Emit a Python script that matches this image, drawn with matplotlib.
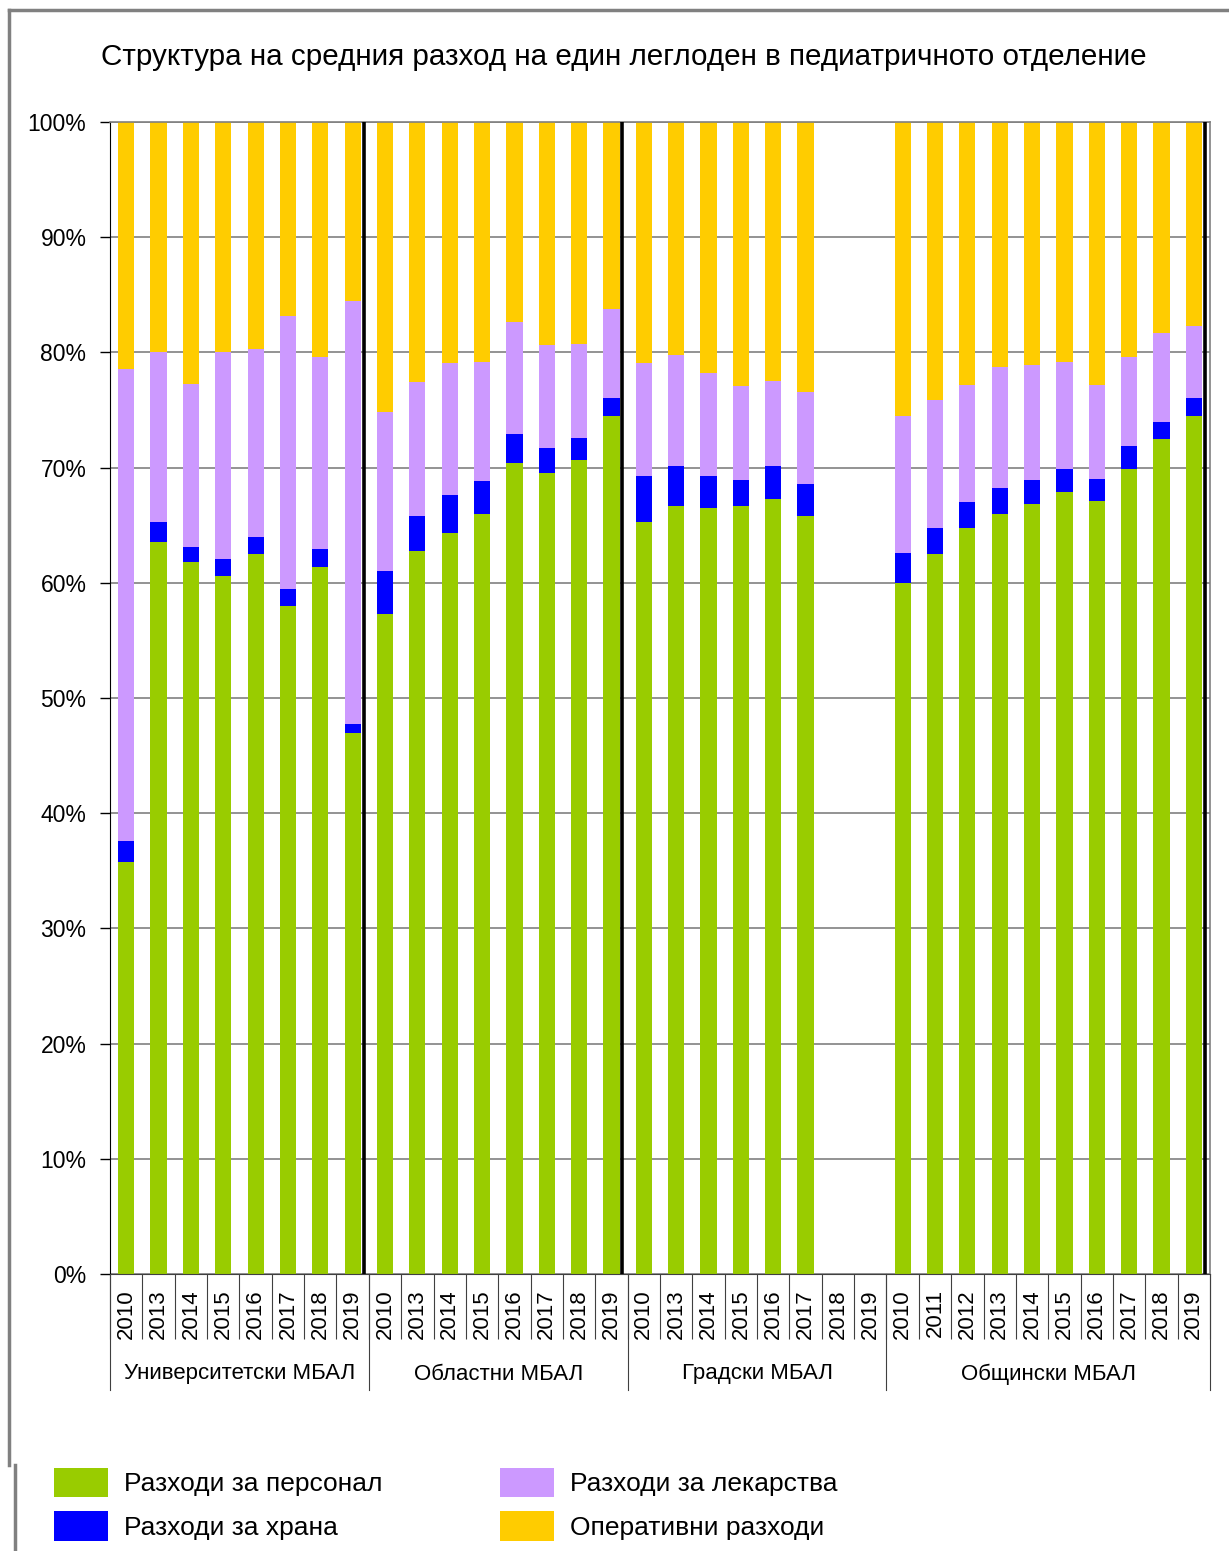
import numpy as np
import matplotlib
matplotlib.use('Agg')
import matplotlib.pyplot as plt
import matplotlib.transforms as mtransforms
from matplotlib.ticker import PercentFormatter, MultipleLocator, FixedLocator
from matplotlib.patches import Patch
from matplotlib.lines import Line2D

# data (percent of average cost per bed-day)
groups = ['Университетски МБАЛ', 'Областни МБАЛ', 'Градски МБАЛ', 'Общински МБАЛ']
years_univ = ['2010', '2013', '2014', '2015', '2016', '2017', '2018', '2019']
years_reg = ['2010', '2013', '2014', '2015', '2016', '2017', '2018', '2019']
years_city = ['2010', '2013', '2014', '2015', '2016', '2017', '2018', '2019']
years_mun = ['2010', '2011', '2012', '2013', '2014', '2015', '2016', '2017', '2018', '2019']

nan = np.nan
personnel = [35.8, 63.5, 61.8, 60.6, 62.5, 58.0, 61.4, 47.0,
             57.3, 62.8, 64.3, 66.0, 70.4, 69.5, 70.7, 74.5,
             65.3, 66.7, 66.5, 66.7, 67.3, 65.8, nan, nan,
             60.0, 62.5, 64.8, 66.0, 66.8, 67.9, 67.1, 69.9, 72.5, 74.5]
food = [1.8, 1.8, 1.3, 1.5, 1.5, 1.5, 1.5, 0.7,
        3.7, 3.0, 3.3, 2.8, 2.5, 2.2, 1.9, 1.5,
        4.0, 3.4, 2.8, 2.2, 2.8, 2.8, nan, nan,
        2.6, 2.3, 2.2, 2.2, 2.1, 2.0, 1.9, 2.0, 1.5, 1.5]
drugs = [41.0, 14.7, 14.2, 17.9, 16.3, 23.7, 16.7, 36.8,
         13.8, 11.6, 11.5, 10.4, 9.7, 8.9, 8.1, 7.8,
         9.8, 9.7, 8.9, 8.2, 7.4, 8.0, nan, nan,
         11.9, 11.1, 10.2, 10.5, 10.0, 9.3, 8.2, 7.7, 7.7, 6.3]
operating = [21.4, 20.0, 22.7, 20.0, 19.7, 16.8, 20.4, 15.5,
             25.2, 22.6, 20.9, 20.8, 17.4, 19.4, 19.3, 16.2,
             20.9, 20.2, 21.8, 22.9, 22.5, 23.4, nan, nan,
             25.5, 24.1, 22.8, 21.3, 21.1, 20.8, 22.8, 20.4, 18.3, 17.7]

series_names = ['Разходи за персонал', 'Разходи за храна', 'Разходи за лекарства', 'Оперативни разходи']
colors = ['#99CC00', '#0000FF', '#CC99FF', '#FFCC00']

plt.rcParams['font.family'] = ['Liberation Sans', 'DejaVu Sans']

year_groups = [years_univ, years_reg, years_city, years_mun]
labels = [y for g in year_groups for y in g]
x = np.arange(len(labels))
sizes = [len(g) for g in year_groups]
edges = np.concatenate([[0], np.cumsum(sizes)]) - 0.5

fig = plt.figure(figsize=(12.29, 15.51), dpi=100)
ax = fig.add_axes([110 / 1229, 1 - 1274 / 1551, 1100 / 1229, 1152 / 1551])

bottom = np.zeros(len(x))
for vals, col in zip([personnel, food, drugs, operating], colors):
    vals = np.array(vals)
    ax.bar(x, vals, width=0.5, bottom=bottom, color=col, zorder=2)
    bottom = bottom + vals

# black separators at the end of some groups
for end in [7, 15, 33]:
    ax.axvline(end + 0.34, color='black', lw=2.6, zorder=3)

ax.set_xlim(-0.5, len(x) - 0.5)
ax.set_ylim(0, 100)
ax.yaxis.set_major_locator(MultipleLocator(10))
ax.yaxis.set_major_formatter(PercentFormatter(decimals=0))
ax.grid(axis='y', color='#808080', lw=1.2, zorder=0)
ax.set_axisbelow(True)

ax.set_xticks(x)
ax.set_xticklabels(labels, rotation=90, fontsize=16)
ax.tick_params(axis='x', length=0, pad=11)
ax.xaxis.set_minor_locator(FixedLocator(np.arange(len(x) + 1) - 0.5))
ax.tick_params(axis='x', which='minor', length=47, width=0.8, color='#404040')
ax.tick_params(axis='y', length=7, width=1, pad=10, labelsize=16.5)

for s in ['top', 'right']:
    ax.spines[s].set_color('#808080')
    ax.spines[s].set_linewidth(1.2)
ax.spines['left'].set_color('black')
ax.spines['bottom'].set_color('#404040')

# group labels and long separators
trans = mtransforms.blended_transform_factory(ax.transData, ax.transAxes)
below = -116 / 1152
for e in edges:
    ax.add_line(Line2D([e, e], [0, below], transform=trans, color='#404040', lw=0.8, clip_on=False))
for i, g in enumerate(groups):
    ax.text((edges[i] + edges[i + 1]) / 2, -100 / 1152, g, transform=trans, ha='center', va='center',
            fontsize=16)

fig.text(624 / 1229, 1 - 57 / 1551, 'Структура на средния разход на един леглоден в педиатричното отделение',
         ha='center', va='center', fontsize=21.3)

# outer frame
fig.add_artist(Line2D([9 / 1229, 1], [1 - 10 / 1551] * 2, transform=fig.transFigure, color='#808080', lw=2.5))
fig.add_artist(Line2D([9 / 1229] * 2, [1 - 10 / 1551, 1 - 1465 / 1551], transform=fig.transFigure, color='#808080', lw=2.5))
fig.add_artist(Line2D([15 / 1229] * 2, [1 - 1465 / 1551, 0], transform=fig.transFigure, color='#808080', lw=2.5))

handles = [Patch(facecolor=c, label=n) for c, n in zip(colors, series_names)]
fig.legend(handles=handles, ncol=2, loc='upper left', bbox_to_anchor=(30 / 1229, 1 - 1444 / 1551),
           frameon=False, prop={'size': 19}, handlelength=2.05, handleheight=1.35,
           handletextpad=0.6, labelspacing=0.52, columnspacing=4.45)

fig.savefig('out.png', dpi=100)
